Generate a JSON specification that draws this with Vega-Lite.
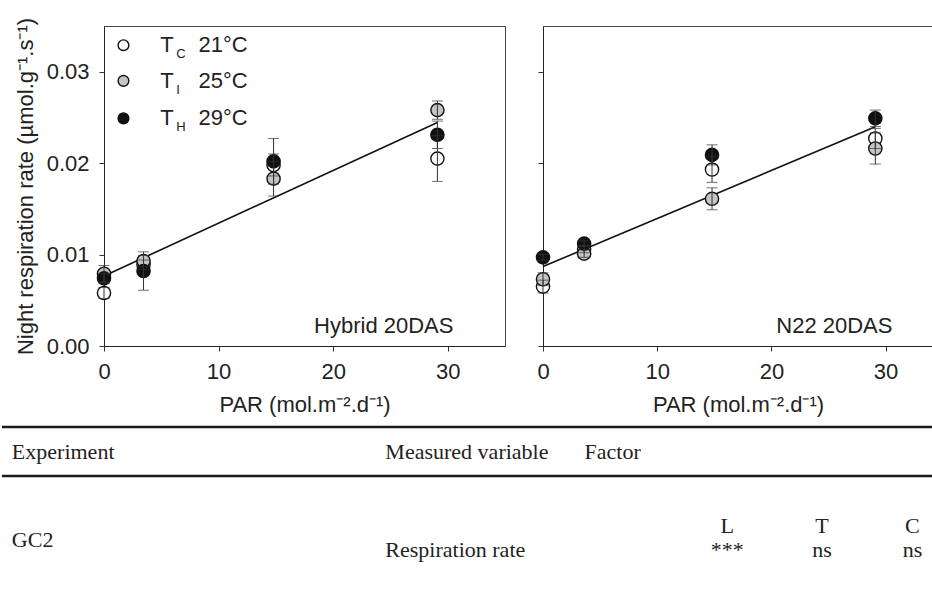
{
  "$schema": "https://vega.github.io/schema/vega-lite/v6.json",
  "padding": {"left": 0, "top": 16, "right": 0, "bottom": 0},
  "background": "white",
  "config": {
    "font": "Liberation Sans",
    "view": {"stroke": "#444", "strokeWidth": 1},
    "axis": {
      "grid": false,
      "labelFlush": false,
      "domainColor": "#222",
      "tickColor": "#333",
      "tickSize": 5,
      "labelFontSize": 22,
      "labelColor": "#222",
      "titleFontSize": 22,
      "titleFontWeight": "normal",
      "titleColor": "#222",
      "labelFont": "Liberation Sans",
      "titleFont": "Liberation Sans"
    }
  },
  "datasets": {
    "pts": [
      {"panel": "Hybrid 20DAS", "trt": "TC", "par": 0, "rate": 0.0058, "err": 0.0006},
      {"panel": "Hybrid 20DAS", "trt": "TC", "par": 3.45, "rate": 0.0089, "err": 0.0005},
      {"panel": "Hybrid 20DAS", "trt": "TC", "par": 14.8, "rate": 0.0198, "err": 0.0012},
      {"panel": "Hybrid 20DAS", "trt": "TC", "par": 29.1, "rate": 0.0205, "err": 0.0025},
      {"panel": "Hybrid 20DAS", "trt": "TI", "par": 0, "rate": 0.0079, "err": 0.0009},
      {"panel": "Hybrid 20DAS", "trt": "TI", "par": 3.45, "rate": 0.0093, "err": 0.0006},
      {"panel": "Hybrid 20DAS", "trt": "TI", "par": 14.8, "rate": 0.0183, "err": 0.0019},
      {"panel": "Hybrid 20DAS", "trt": "TI", "par": 29.1, "rate": 0.0258, "err": 0.0010},
      {"panel": "Hybrid 20DAS", "trt": "TH", "par": 0, "rate": 0.0074, "err": 0.0005},
      {"panel": "Hybrid 20DAS", "trt": "TH", "par": 3.45, "rate": 0.0082, "err": 0.0021},
      {"panel": "Hybrid 20DAS", "trt": "TH", "par": 14.8, "rate": 0.0202, "err": 0.0025},
      {"panel": "Hybrid 20DAS", "trt": "TH", "par": 29.1, "rate": 0.0231, "err": 0.0015},
      {"panel": "N22 20DAS", "trt": "TC", "par": 0, "rate": 0.0065, "err": 0.0007},
      {"panel": "N22 20DAS", "trt": "TC", "par": 3.6, "rate": 0.0106, "err": 0.0004},
      {"panel": "N22 20DAS", "trt": "TC", "par": 14.8, "rate": 0.0193, "err": 0.0014},
      {"panel": "N22 20DAS", "trt": "TC", "par": 29.1, "rate": 0.0227, "err": 0.0011},
      {"panel": "N22 20DAS", "trt": "TI", "par": 0, "rate": 0.0073, "err": 0.0007},
      {"panel": "N22 20DAS", "trt": "TI", "par": 3.6, "rate": 0.0101, "err": 0.0004},
      {"panel": "N22 20DAS", "trt": "TI", "par": 14.8, "rate": 0.0161, "err": 0.0012},
      {"panel": "N22 20DAS", "trt": "TI", "par": 29.1, "rate": 0.0216, "err": 0.0017},
      {"panel": "N22 20DAS", "trt": "TH", "par": 0, "rate": 0.0097, "err": 0.0003},
      {"panel": "N22 20DAS", "trt": "TH", "par": 3.6, "rate": 0.0112, "err": 0.0003},
      {"panel": "N22 20DAS", "trt": "TH", "par": 14.8, "rate": 0.0209, "err": 0.0011},
      {"panel": "N22 20DAS", "trt": "TH", "par": 29.1, "rate": 0.0249, "err": 0.0009}
    ],
    "fits": [
      {"panel": "Hybrid 20DAS", "par": 0, "rate": 0.00766},
      {"panel": "Hybrid 20DAS", "par": 29.1, "rate": 0.02445},
      {"panel": "N22 20DAS", "par": 0, "rate": 0.00869},
      {"panel": "N22 20DAS", "par": 29.1, "rate": 0.02398}
    ],
    "labels": [
      {"panel": "Hybrid 20DAS", "par": 30.5, "rate": 0.0022, "label": "Hybrid 20DAS"},
      {"panel": "N22 20DAS", "par": 30.6, "rate": 0.0022, "label": "N22 20DAS"}
    ],
    "legend": [
      {"trt": "TC", "par": 1.7, "rate": 0.0329, "tx": 4.9, "sx": 6.3, "vx": 8.25, "sub": "C", "temp": "21°C"},
      {"trt": "TI", "par": 1.7, "rate": 0.0290, "tx": 4.9, "sx": 6.3, "vx": 8.25, "sub": "I", "temp": "25°C"},
      {"trt": "TH", "par": 1.7, "rate": 0.0249, "tx": 4.9, "sx": 6.3, "vx": 8.25, "sub": "H", "temp": "29°C"}
    ],
    "tlines": [
      {"x1": -12.3, "x2": 100, "y": 3.8},
      {"x1": -12.3, "x2": 100, "y": 30.6}
    ],
    "ttext": [
      {"label": "Experiment", "x": -11.1, "y": 17.5, "al": "left"},
      {"label": "Measured variable", "x": 33.9, "y": 17.5, "al": "left"},
      {"label": "Factor", "x": 57.9, "y": 17.5, "al": "left"},
      {"label": "GC2", "x": -11.1, "y": 65.6, "al": "left"},
      {"label": "Respiration rate", "x": 33.9, "y": 71.0, "al": "left"},
      {"label": "L", "x": 75.1, "y": 57.9, "al": "center"},
      {"label": "T", "x": 86.5, "y": 57.9, "al": "center"},
      {"label": "C", "x": 97.4, "y": 57.9, "al": "center"},
      {"label": "***", "x": 75.1, "y": 71.0, "al": "center"},
      {"label": "ns", "x": 86.5, "y": 71.0, "al": "center"},
      {"label": "ns", "x": 97.4, "y": 71.0, "al": "center"}
    ]
  },
  "spacing": 4,
  "vconcat": [
    {
      "spacing": 27,
      "hconcat": [
        {
          "width": 401,
          "height": 320,
          "encoding": {
            "x": {"field": "par", "type": "quantitative",
              "scale": {"domain": [0, 35], "nice": false, "zero": false},
              "axis": {"values": [0, 10, 20, 30], "title": "PAR (mol.m⁻².d⁻¹)", "labelPadding": 10, "titlePadding": 12}},
            "y": {"field": "rate", "type": "quantitative",
              "scale": {"domain": [0, 0.035], "nice": false, "zero": false},
              "axis": {"values": [0, 0.01, 0.02, 0.03], "format": ".2f", "title": "Night respiration rate (µmol.g⁻¹.s⁻¹)", "labelPadding": 10, "titlePadding": 9}}
          },
          "layer": [
            {"data": {"name": "fits"}, "transform": [{"filter": "datum.panel === 'Hybrid 20DAS'"}],
             "mark": {"type": "line", "color": "#111", "strokeWidth": 1.6}},
            {"data": {"name": "pts"}, "transform": [{"filter": "datum.panel === 'Hybrid 20DAS'"}],
             "mark": {"type": "point", "shape": "circle", "size": 175, "stroke": "#111", "strokeWidth": 1.4, "opacity": 1},
             "encoding": {"fill": {"field": "trt", "type": "nominal", "scale": {"domain": ["TC", "TI", "TH"], "range": ["white", "#c4c4c4", "#111111"]}, "legend": null}}},
            {"data": {"name": "pts"}, "transform": [{"filter": "datum.panel === 'Hybrid 20DAS'"}],
             "mark": {"type": "errorbar", "ticks": {"size": 11}, "thickness": 1, "color": "#333"},
             "encoding": {"yError": {"field": "err"}}},
            {"data": {"name": "legend"},
             "mark": {"type": "point", "shape": "circle", "size": 115, "stroke": "#111", "strokeWidth": 1.4, "opacity": 1},
             "encoding": {"fill": {"field": "trt", "type": "nominal", "scale": {"domain": ["TC", "TI", "TH"], "range": ["white", "#c4c4c4", "#111111"]}, "legend": null}}},
            {"data": {"name": "legend"},
             "mark": {"type": "text", "align": "left", "baseline": "middle", "fontSize": 22, "color": "#222"},
             "encoding": {"x": {"field": "tx", "type": "quantitative"}, "text": {"value": "T"}}},
            {"data": {"name": "legend"},
             "mark": {"type": "text", "align": "left", "baseline": "middle", "fontSize": 13, "dy": 9, "color": "#222"},
             "encoding": {"x": {"field": "sx", "type": "quantitative"}, "text": {"field": "sub"}}},
            {"data": {"name": "legend"},
             "mark": {"type": "text", "align": "left", "baseline": "middle", "fontSize": 22, "color": "#222"},
             "encoding": {"x": {"field": "vx", "type": "quantitative"}, "text": {"field": "temp"}}},
            {"data": {"name": "labels"}, "transform": [{"filter": "datum.panel === 'Hybrid 20DAS'"}],
             "mark": {"type": "text", "align": "right", "baseline": "middle", "fontSize": 22, "color": "#222"},
             "encoding": {"text": {"field": "label"}}}
          ]
        },
        {
          "width": 390,
          "height": 320,
          "encoding": {
            "x": {"field": "par", "type": "quantitative",
              "scale": {"domain": [0, 34.15], "nice": false, "zero": false},
              "axis": {"values": [0, 10, 20, 30], "title": "PAR (mol.m⁻².d⁻¹)", "labelPadding": 10, "titlePadding": 12}},
            "y": {"field": "rate", "type": "quantitative",
              "scale": {"domain": [0, 0.035], "nice": false, "zero": false},
              "axis": {"values": [0, 0.01, 0.02, 0.03], "labels": false, "title": null}}
          },
          "layer": [
            {"data": {"name": "fits"}, "transform": [{"filter": "datum.panel === 'N22 20DAS'"}],
             "mark": {"type": "line", "color": "#111", "strokeWidth": 1.6}},
            {"data": {"name": "pts"}, "transform": [{"filter": "datum.panel === 'N22 20DAS'"}],
             "mark": {"type": "point", "shape": "circle", "size": 175, "stroke": "#111", "strokeWidth": 1.4, "opacity": 1},
             "encoding": {"fill": {"field": "trt", "type": "nominal", "scale": {"domain": ["TC", "TI", "TH"], "range": ["white", "#c4c4c4", "#111111"]}, "legend": null}}},
            {"data": {"name": "pts"}, "transform": [{"filter": "datum.panel === 'N22 20DAS'"}],
             "mark": {"type": "errorbar", "ticks": {"size": 11}, "thickness": 1, "color": "#333"},
             "encoding": {"yError": {"field": "err"}}},
            {"data": {"name": "labels"}, "transform": [{"filter": "datum.panel === 'N22 20DAS'"}],
             "mark": {"type": "text", "align": "right", "baseline": "middle", "fontSize": 22, "color": "#222"},
             "encoding": {"text": {"field": "label"}}}
          ]
        }
      ]
    },
    {
      "width": 830,
      "height": 183,
      "view": {"stroke": null},
      "encoding": {
        "x": {"field": "x", "type": "quantitative", "scale": {"domain": [0, 100], "nice": false, "zero": false}, "axis": null},
        "y": {"field": "y", "type": "quantitative", "scale": {"domain": [0, 100], "nice": false, "zero": false, "reverse": true}, "axis": null}
      },
      "layer": [
        {"data": {"name": "tlines"},
         "mark": {"type": "rule", "color": "#1a1a1a", "strokeWidth": 2.5},
         "encoding": {"x": {"field": "x1", "type": "quantitative"}, "x2": {"field": "x2"}}},
        {"data": {"name": "ttext"}, "transform": [{"filter": "datum.al === 'left'"}],
         "mark": {"type": "text", "align": "left", "baseline": "middle", "font": "Liberation Serif", "fontSize": 22, "color": "#222"},
         "encoding": {"text": {"field": "label"}}},
        {"data": {"name": "ttext"}, "transform": [{"filter": "datum.al === 'center'"}],
         "mark": {"type": "text", "align": "center", "baseline": "middle", "font": "Liberation Serif", "fontSize": 22, "color": "#222"},
         "encoding": {"text": {"field": "label"}}}
      ]
    }
  ]
}
